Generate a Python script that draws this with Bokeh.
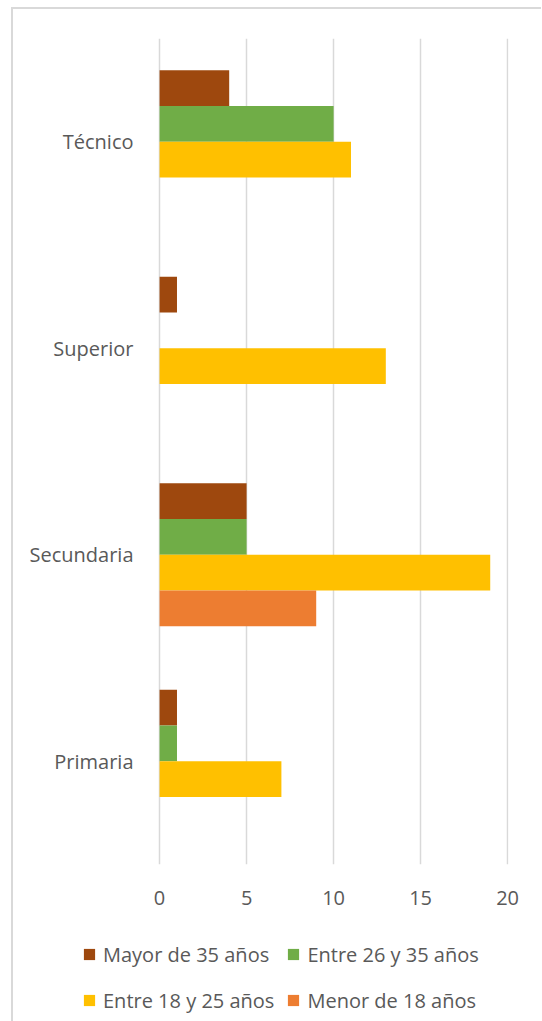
from bokeh.plotting import figure
from bokeh.models import (Range1d, FactorRange, Legend, LegendItem, FixedTicker,
                          ColumnDataSource)
from bokeh.transform import dodge
from bokeh.embed import file_html
from bokeh.resources import INLINE

categories = ["Primaria", "Secundaria", "Superior", "Técnico"]
series = ["Mayor de 35 años", "Entre 26 y 35 años", "Entre 18 y 25 años", "Menor de 18 años"]
mayor_35 = [1, 5, 1, 4]
entre_26_35 = [1, 5, 0, 10]
entre_18_25 = [7, 19, 13, 11]
menor_18 = [0, 9, 0, 0]
x_ticks = [0, 5, 10, 15, 20]

colors = ["#9E480E", "#70AD47", "#FFC000", "#ED7D31"]
offsets = [0.26, 0.0867, -0.0867, -0.26]
FONT = "Open Sans"
TXT = "#595959"
GRID = "#D9D9D9"

source = ColumnDataSource(dict(cat=categories, m35=mayor_35, e2635=entre_26_35,
                               e1825=entre_18_25, m18=menor_18))

# main chart (page offset: 11/7 px margin + 2 px border)
p = figure(y_range=FactorRange(factors=categories), x_range=Range1d(-0.12, 20.05),
           frame_width=351, frame_height=826, min_border_left=144, min_border_right=33,
           min_border_top=29, min_border_bottom=60,
           output_backend="svg", toolbar_location=None)
p.styles = {"margin-left": "11px", "margin-top": "7px",
            "border-left": "2px solid #D9D9D9", "border-top": "2px solid #D9D9D9"}

cols = ["m35", "e2635", "e1825", "m18"]
for c, color, off in zip(cols, colors, offsets):
    p.hbar(y=dodge("cat", off, range=p.y_range), right=c, left=0, height=0.1733,
           source=source, fill_color=color, line_color=None)

p.outline_line_color = None
p.background_fill_color = "white"
p.border_fill_color = "white"
p.xgrid.grid_line_color = GRID
p.xgrid.grid_line_width = 1.5
p.ygrid.grid_line_color = None
p.xaxis.ticker = FixedTicker(ticks=x_ticks)
for ax in (p.xaxis, p.yaxis):
    ax.axis_line_color = None
    ax.major_tick_line_color = None
    ax.minor_tick_line_color = None
    ax.major_label_text_font = FONT
    ax.major_label_text_font_size = "20px"
    ax.major_label_text_color = TXT
p.xaxis.major_label_standoff = 20
p.yaxis.major_label_standoff = 18

# legend strip (legend swatch proxies sit outside the visible range)
pl = figure(width=529, height=97, x_range=Range1d(0, 1), y_range=Range1d(0, 1),
            min_border=0, output_backend="svg", toolbar_location=None)
pl.styles = {"margin-left": "11px", "border-left": "2px solid #D9D9D9"}
pl.axis.visible = False
pl.grid.visible = False
pl.outline_line_color = None
pl.border_fill_color = "white"
proxies = {}
for name, color in zip(series, colors):
    proxies[name] = pl.hbar(y=[-10], right=[0], left=[0], height=0.1,
                            fill_color=color, line_color=None)
# column-major fill of the 2-column grid -> row-major reading order of the reference
order = [series[0], series[2], series[1], series[3]]
items = [LegendItem(label=n, renderers=[proxies[n]]) for n in order]
legend = Legend(items=items, ncols=2, location=(69, 4))
legend.label_text_font = FONT
legend.label_text_font_size = "20px"
legend.label_text_color = TXT
legend.glyph_width = 14
legend.glyph_height = 14
legend.label_standoff = 7
legend.label_height = 34
legend.spacing = 12
legend.border_line_color = None
legend.background_fill_alpha = 0
legend.padding = 0
legend.margin = 0
pl.add_layout(legend, "center")

open("out.html", "w").write(file_html([p, pl], INLINE))
